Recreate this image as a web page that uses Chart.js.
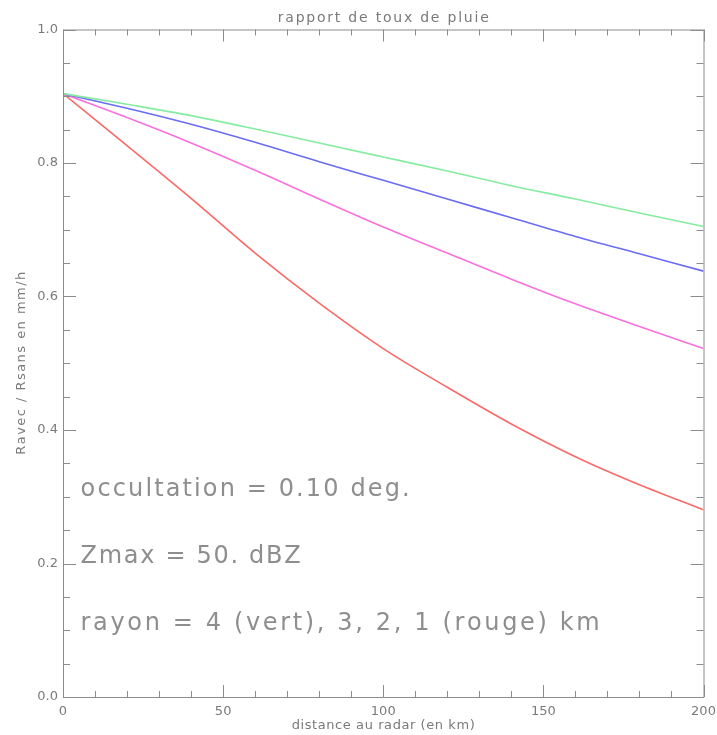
<!DOCTYPE html>
<html>
<head>
<meta charset="utf-8">
<script src="https://cdn.jsdelivr.net/npm/chart.js@4/dist/chart.umd.min.js"></script>
<style>
html,body{margin:0;padding:0;background:#fff;}
#wrap{width:717px;height:735px;position:relative;}
</style>
</head>
<body>
<div id="wrap"><canvas id="c" width="717" height="735"></canvas></div>
<script>
// distance au radar (km)
const distances = [0, 20, 40, 60, 80, 100, 120, 140, 160, 180, 200];
// rayon = 4 km (vert)
const rayon4 = [0.904, 0.888, 0.871, 0.851, 0.830, 0.809, 0.788, 0.766, 0.746, 0.725, 0.705];
// rayon = 3 km (bleu)
const rayon3 = [0.904, 0.882, 0.858, 0.831, 0.802, 0.774, 0.746, 0.718, 0.690, 0.664, 0.638];
// rayon = 2 km (magenta)
const rayon2 = [0.904, 0.868, 0.830, 0.789, 0.746, 0.704, 0.665, 0.626, 0.589, 0.555, 0.522];
// rayon = 1 km (rouge)
const rayon1 = [0.904, 0.826, 0.747, 0.665, 0.590, 0.522, 0.464, 0.409, 0.360, 0.318, 0.2805];

const chartTitle = "rapport de toux de pluie";
const xTitle = "distance au radar (en km)";
const yTitle = "Ravec / Rsans en mm/h";
const notes = ["occultation = 0.10 deg.", "Zmax = 50. dBZ", "rayon = 4 (vert), 3, 2, 1 (rouge) km"];
const noteValues = [0.31, 0.21, 0.11];

const series = [
  {label: "4 km", data: rayon4, color: "#86eca0"},
  {label: "3 km", data: rayon3, color: "#6a6cf6"},
  {label: "2 km", data: rayon2, color: "#fb70dc"},
  {label: "1 km", data: rayon1, color: "#fa6a68"}
];

const AXIS = "#8c8c8c";
const TEXT = "#7a7a7a";
const FONT = "'DejaVu Sans', sans-serif";

// draw text char by char, spaced so that it spans a given width
function spacedText(ctx, text, x, y, width, align) {
  const chars = Array.from(text);
  const ws = chars.map(c => ctx.measureText(c).width);
  const w0 = ws.reduce((p, q) => p + q, 0);
  const sp = Math.max(0, (width - w0) / Math.max(1, chars.length - 1));
  ctx.textAlign = "left";
  let sx = (align === "center") ? x - width / 2 : x;
  chars.forEach((c, i) => {
    ctx.fillText(c, sx, y);
    sx += ws[i] + sp;
  });
}

const framePlugin = {
  id: "frame",
  afterDraw(chart) {
    const ctx = chart.ctx;
    const a = chart.chartArea;
    const xs = chart.scales.x, ys = chart.scales.y;
    ctx.save();
    ctx.strokeStyle = AXIS;
    ctx.lineWidth = 1;
    ctx.beginPath();
    ctx.moveTo(a.left + 0.5, a.top + 0.5);
    ctx.lineTo(a.right + 0.5, a.top + 0.5);
    ctx.lineTo(a.right + 0.5, a.bottom + 0.5);
    ctx.lineTo(a.left + 0.5, a.bottom + 0.5);
    ctx.closePath();
    ctx.stroke();
    ctx.beginPath();
    for (let v = 0; v <= 200; v += 10) {
      const px = Math.round(xs.getPixelForValue(v)) + 0.5;
      const len = (v % 50 === 0) ? 12 : 6;
      ctx.moveTo(px, a.bottom); ctx.lineTo(px, a.bottom - len);
      ctx.moveTo(px, a.top); ctx.lineTo(px, a.top + len);
    }
    for (let i = 0; i <= 20; i++) {
      const v = i * 0.05;
      const py = Math.round(ys.getPixelForValue(v)) + 0.5;
      const len = (i % 4 === 0) ? 13 : 7;
      ctx.moveTo(a.left, py); ctx.lineTo(a.left + len, py);
      ctx.moveTo(a.right, py); ctx.lineTo(a.right - len, py);
    }
    ctx.stroke();

    ctx.fillStyle = TEXT;
    ctx.textBaseline = "middle";
    const cx = (a.left + a.right) / 2;
    ctx.font = "14px " + FONT;
    spacedText(ctx, chartTitle, cx, 18, 211, "center");
    ctx.font = "13px " + FONT;
    spacedText(ctx, xTitle, cx, 726, 183, "center");
    ctx.save();
    ctx.translate(22, (a.top + a.bottom) / 2);
    ctx.rotate(-Math.PI / 2);
    spacedText(ctx, yTitle, 0, 0, 183, "center");
    ctx.restore();

    ctx.fillStyle = "#8e8e8e";
    ctx.font = "24px " + FONT;
    const widths = [329, 220, 519];
    notes.forEach((t, i) => {
      spacedText(ctx, t, xs.getPixelForValue(5.5), ys.getPixelForValue(noteValues[i]), widths[i], "left");
    });
    ctx.restore();
  }
};

new Chart(document.getElementById("c"), {
  type: "line",
  data: {
    datasets: series.map(s => ({
      label: s.label,
      data: distances.map((d, i) => ({x: d, y: s.data[i]})),
      borderColor: s.color,
      borderWidth: 1.6,
      pointRadius: 0,
      fill: false,
      cubicInterpolationMode: "monotone"
    }))
  },
  options: {
    responsive: false,
    animation: false,
    layout: {padding: {top: 29.5, right: 13.5, left: 0, bottom: 0}},
    plugins: {legend: {display: false}, title: {display: false}, tooltip: {enabled: false}},
    scales: {
      x: {
        type: "linear", min: 0, max: 200,
        grid: {display: false, drawTicks: false},
        border: {display: false},
        afterFit(s) { s.height = 38; s.paddingRight = 0; s.paddingLeft = 0; },
        ticks: {
          stepSize: 50, padding: 7, color: TEXT, maxRotation: 0,
          font: {family: FONT, size: 13},
          callback: v => String(v)
        }
      },
      y: {
        type: "linear", min: 0, max: 1,
        grid: {display: false, drawTicks: false},
        border: {display: false},
        afterFit(s) { s.width = 63; s.paddingTop = 0; s.paddingBottom = 0; },
        ticks: {
          stepSize: 0.2, padding: 5, color: TEXT,
          font: {family: FONT, size: 13},
          callback: v => Number(v).toFixed(1)
        }
      }
    }
  },
  plugins: [framePlugin]
});
</script>
</body>
</html>
